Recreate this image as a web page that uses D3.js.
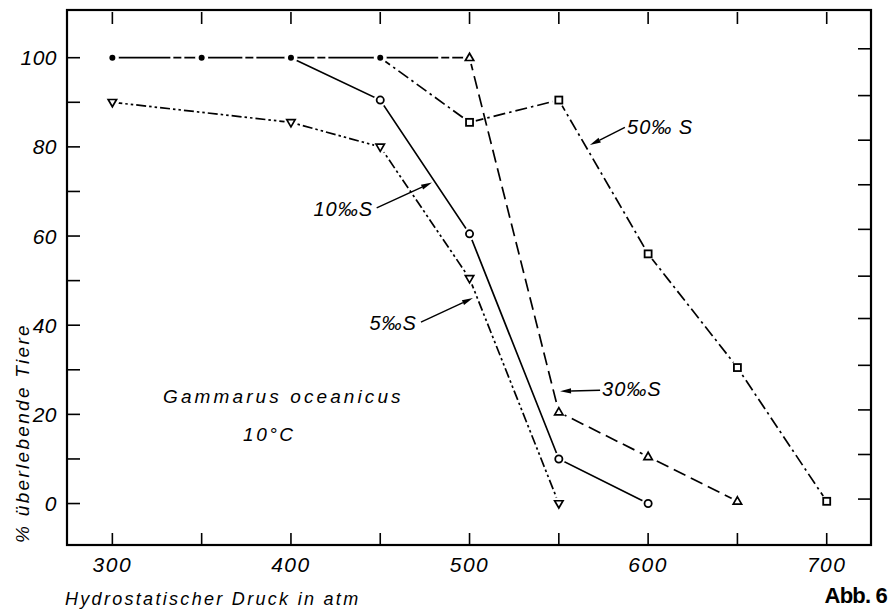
<!DOCTYPE html>
<html><head><meta charset="utf-8">
<script src="https://cdn.jsdelivr.net/npm/d3@7"></script>
<style>body{margin:0;background:#fff}svg{display:block}</style>
</head><body>
<svg id="c" width="893" height="614"></svg>
<script>
// ---- data ----
const pressureTicks = [300, 350, 400, 450, 500, 550, 600, 650, 700];
const pressureLabels = [300, 400, 500, 600, 700];
const percentLabels = [0, 20, 40, 60, 80, 100];
const percentTicks = [0, 10, 20, 30, 40, 50, 60, 70, 80, 90, 100];
const rightTicks = [1, 11, 21, 31, 41.5, 51, 61.5, 71.5, 81.5, 91.5, 102];

// shared start (all high-salinity series at 100 %)
const commonP = [300, 350, 400, 450];
const commonV = [100, 100, 100, 100];
// 10 ‰ S (solid, circles)
const s10P = [400, 450, 500, 550, 600];
const s10V = [100, 90.5, 60.5, 10, 0];
// 30 ‰ S (dashed, triangles)
const s30P = [450, 500, 550, 600, 650];
const s30V = [100, 100, 20.5, 10.5, 0.5];
// 50 ‰ S (dash-dot, squares)
const s50P = [450, 500, 550, 600, 650, 700];
const s50V = [100, 85.5, 90.5, 56, 30.5, 0.5];
// 5 ‰ S (dash-dot-dot, inverted triangles)
const s5P = [300, 400, 450, 500, 550];
const s5V = [90, 85.5, 80, 50.5, 0];

const labels = [
  {t: "10‰S", p: 446, v: 64.5, anchor: "end", from: [448, 66.3], to: [479, 72.0]},
  {t: "5‰S", p: 470.5, v: 38.9, anchor: "end", from: [472.8, 40.7], to: [501.9, 46.1]},
  {t: "30‰S", p: 574.2, v: 24.1, anchor: "start", from: [573.1, 25.4], to: [550.7, 25.2]},
  {t: "50‰ S", p: 588.2, v: 82.8, anchor: "start", from: [587, 84.4], to: [567.4, 80.4]}
];

// ---- scales ----
const x = d3.scaleLinear().domain([274.6, 724.8]).range([67, 871]);
const y = d3.scaleLinear().domain([-9.3, 110.7]).range([545, 10]);

const svg = d3.select("#c");
const FONT = "'Liberation Sans', Arial, sans-serif";
const g = svg.append("g");

// frame
g.append("rect").attr("x", 67).attr("y", 10).attr("width", 871 - 67).attr("height", 545 - 10)
  .attr("fill", "none").attr("stroke", "#000").attr("stroke-width", 2.2);

// ticks
g.selectAll(".tt").data(pressureTicks).enter().append("line")
  .attr("x1", d => x(d)).attr("x2", d => x(d)).attr("y1", 12).attr("y2", 24)
  .attr("stroke", "#000").attr("stroke-width", 1.6);
g.selectAll(".bt").data(pressureTicks).enter().append("line")
  .attr("x1", d => x(d)).attr("x2", d => x(d)).attr("y1", 533).attr("y2", 545)
  .attr("stroke", "#000").attr("stroke-width", 1.6);
g.selectAll(".lt").data(percentTicks).enter().append("line")
  .attr("x1", 67).attr("x2", 80).attr("y1", d => y(d)).attr("y2", d => y(d))
  .attr("stroke", "#000").attr("stroke-width", 1.6);
g.selectAll(".rt").data(rightTicks).enter().append("line")
  .attr("x1", 858).attr("x2", 871).attr("y1", d => y(d)).attr("y2", d => y(d))
  .attr("stroke", "#000").attr("stroke-width", 1.6);

// tick labels
g.selectAll(".xl").data(pressureLabels).enter().append("text")
  .attr("x", d => x(d)).attr("y", 572).attr("text-anchor", "middle")
  .attr("font-family", FONT).attr("font-style", "italic").attr("font-size", 21)
  .attr("letter-spacing", 1.5).text(d => d);
g.selectAll(".yl").data(percentLabels).enter().append("text")
  .attr("x", 57).attr("y", d => y(d) + 7.5).attr("text-anchor", "end")
  .attr("font-family", FONT).attr("font-style", "italic").attr("font-size", 21)
  .attr("letter-spacing", 0.5).text(d => d);

// axis titles
g.append("text").attr("x", 65).attr("y", 605)
  .attr("font-family", FONT).attr("font-style", "italic").attr("font-size", 18)
  .attr("letter-spacing", 2.3).text("Hydrostatischer Druck in atm");
g.append("text").attr("transform", "translate(29,433) rotate(-90)")
  .attr("text-anchor", "middle")
  .attr("font-family", FONT).attr("font-style", "italic").attr("font-size", 19)
  .attr("letter-spacing", 2.3).text("% überlebende Tiere");

g.append("text").attr("x", x(328.4)).attr("y", y(22.5))
  .attr("font-family", FONT).attr("font-style", "italic").attr("font-size", 19)
  .attr("letter-spacing", 3.1).text("Gammarus oceanicus");
g.append("text").attr("x", x(373.2)).attr("y", y(14))
  .attr("font-family", FONT).attr("font-style", "italic").attr("font-size", 19)
  .attr("letter-spacing", 2.5).text("10°C");

g.append("text").attr("x", 887).attr("y", 603).attr("text-anchor", "end")
  .attr("font-family", FONT).attr("font-size", 22).attr("font-weight", "bold")
  .attr("letter-spacing", -0.8).text("Abb. 6");

// lines
const line = d3.line().x(d => x(d[0])).y(d => y(d[1]));
const zip = (P, V) => P.map((p, i) => [p, V[i]]);
const series = [
  {pts: zip(commonP, commonV), dash: "58,3,8,3"},
  {pts: zip(s10P, s10V), dash: null},
  {pts: zip(s30P.slice(0, 2), s30V.slice(0, 2)), dash: "58,3,8,3"},
  {pts: zip(s30P.slice(1), s30V.slice(1)), dash: "13,6"},
  {pts: zip(s50P, s50V), dash: "12,4,2.5,4"},
  {pts: zip(s5P, s5V), dash: "10,3,2.5,3,2.5,3"}
];
series.forEach(s => {
  g.append("path").attr("d", line(s.pts)).attr("fill", "none")
    .attr("stroke", "#000").attr("stroke-width", 1.7)
    .attr("stroke-dasharray", s.dash);
});

// markers
const markers = [];
commonP.forEach((p, i) => markers.push({p, v: commonV[i], type: "dot"}));
s10P.forEach((p, i) => { if (i > 0) markers.push({p, v: s10V[i], type: "circle"}); });
s30P.forEach((p, i) => { if (i > 0) markers.push({p, v: s30V[i], type: "tri"}); });
s50P.forEach((p, i) => { if (i > 0) markers.push({p, v: s50V[i], type: "square"}); });
s5P.forEach((p, i) => markers.push({p, v: s5V[i], type: "triDown"}));

g.selectAll(".halo").data(markers).enter().append("circle")
  .attr("cx", d => x(d.p)).attr("cy", d => y(d.v)).attr("r", 6.5).attr("fill", "#fff");

markers.forEach(d => {
  const cx = x(d.p), cy = y(d.v);
  if (d.type === "dot") {
    g.append("circle").attr("cx", cx).attr("cy", cy).attr("r", 3).attr("fill", "#000");
  } else if (d.type === "circle") {
    g.append("circle").attr("cx", cx).attr("cy", cy).attr("r", 3.6)
      .attr("fill", "#fff").attr("stroke", "#000").attr("stroke-width", 1.8);
  } else if (d.type === "square") {
    g.append("rect").attr("x", cx - 3.5).attr("y", cy - 3.5).attr("width", 7).attr("height", 7)
      .attr("fill", "#fff").attr("stroke", "#000").attr("stroke-width", 1.8);
  } else if (d.type === "tri") {
    g.append("path").attr("d", `M${cx},${cy - 4.5}L${cx + 4.2},${cy + 2.8}L${cx - 4.2},${cy + 2.8}Z`)
      .attr("fill", "#fff").attr("stroke", "#000").attr("stroke-width", 1.7);
  } else {
    g.append("path").attr("d", `M${cx},${cy + 4.5}L${cx + 4.2},${cy - 2.8}L${cx - 4.2},${cy - 2.8}Z`)
      .attr("fill", "#fff").attr("stroke", "#000").attr("stroke-width", 1.7);
  }
});

// annotation labels with arrows
labels.forEach(l => {
  g.append("text").attr("x", x(l.p)).attr("y", y(l.v)).attr("text-anchor", l.anchor)
    .attr("font-family", FONT).attr("font-style", "italic").attr("font-size", 20)
    .attr("letter-spacing", 1).text(l.t);
  const x1 = x(l.from[0]), y1 = y(l.from[1]), x2 = x(l.to[0]), y2 = y(l.to[1]);
  const ang = Math.atan2(y2 - y1, x2 - x1);
  const L = 11, W = 2.6;
  const bx = x2 - L * Math.cos(ang), by = y2 - L * Math.sin(ang);
  g.append("line").attr("x1", x1).attr("y1", y1).attr("x2", bx).attr("y2", by)
    .attr("stroke", "#000").attr("stroke-width", 1.4);
  g.append("path")
    .attr("d", `M${x2},${y2}L${bx - W * Math.sin(ang)},${by + W * Math.cos(ang)}L${bx + W * Math.sin(ang)},${by - W * Math.cos(ang)}Z`)
    .attr("fill", "#000");
});
</script>
</body></html>
